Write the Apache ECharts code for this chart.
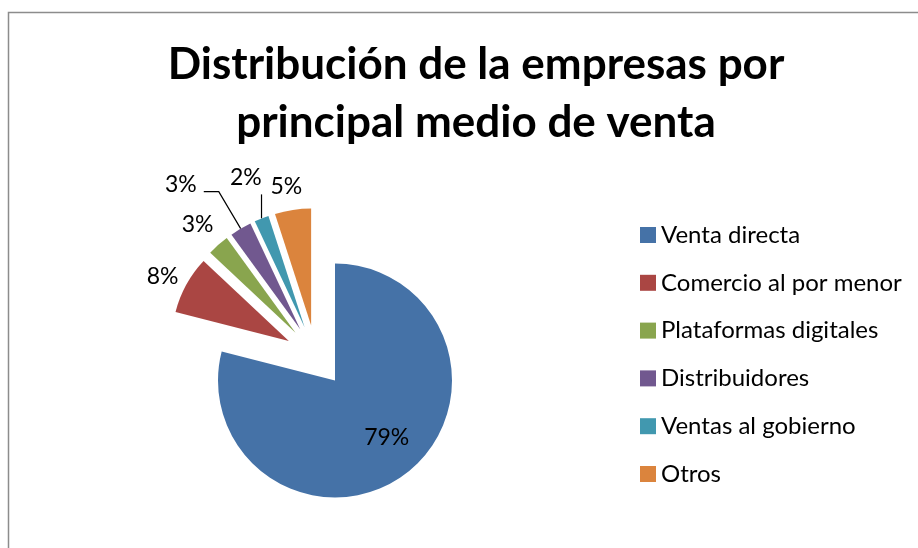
<!DOCTYPE html>
<html>
<head>
<meta charset="utf-8">
<script src="https://cdn.jsdelivr.net/npm/echarts@6/dist/echarts.min.js"></script>
<style>
  html, body { margin: 0; padding: 0; background: #fff; }
  #chart { width: 918px; height: 548px; }
</style>
</head>
<body>
<div id="chart"></div>
<script>
// datos
const categorias = ['Venta directa', 'Comercio al por menor', 'Plataformas digitales', 'Distribuidores', 'Ventas al gobierno', 'Otros'];
const porcentajes = [79, 8, 3, 3, 2, 5];
const colores = ['#4572A7', '#AA4643', '#89A54E', '#71588F', '#4198AF', '#DB843D'];

const fuente = 'Lato, "Open Sans", sans-serif';

// ajuste fino de cada etiqueta (dx, dy) respecto a su sitio por defecto
const ajusteEtiquetas = [[14, 8], [18, -3], [19, -13], [-2, -7], [14, -19], [28, -13]];

let datos = categorias.map((nombre, i) => {
  let item = {
    name: nombre,
    value: porcentajes[i],
    selected: true,
    itemStyle: { color: colores[i] },
    label: { position: i === 0 ? 'inside' : 'outside' },
    labelLine: { show: i === 3 || i === 4 }
  };
  if (i === 3) item.labelLine.length = 43, item.labelLine.length2 = 15;
  if (i === 4) item.labelLine.length = 24, item.labelLine.length2 = 0;
  return item;
});

let myChart = echarts.init(document.getElementById('chart'));
myChart.setOption({
  animation: false,
  title: {
    text: 'Distribución de la empresas por\nprincipal medio de venta',
    left: 471,
    top: 31,
    textAlign: 'center',
    textStyle: {
      fontFamily: fuente,
      fontWeight: 'bold',
      fontSize: 44,
      lineHeight: 58,
      color: '#000'
    }
  },
  legend: {
    orient: 'vertical',
    left: 635,
    top: 217,
    icon: 'rect',
    itemWidth: 16,
    itemHeight: 16,
    itemGap: 21.8,
    selectedMode: false,
    textStyle: {
      fontFamily: fuente,
      fontSize: 24,
      lineHeight: 26,
      color: '#000'
    },
    data: categorias
  },
  graphic: [{
    type: 'rect',
    shape: { x: 8.5, y: 12.5, width: 1000, height: 600 },
    style: { fill: 'none', stroke: '#8c8c8c', lineWidth: 1.5 },
    silent: true
  }],
  series: [{
    type: 'pie',
    center: [316, 356],
    radius: [0, 117],
    startAngle: 90,
    clockwise: true,
    selectedMode: 'multiple',
    selectedOffset: 31,
    avoidLabelOverlap: false,
    itemStyle: { borderWidth: 0 },
    select: { itemStyle: { borderWidth: 0 } },
    emphasis: { disabled: true },
    label: {
      formatter: '{c}%',
      fontFamily: fuente,
      fontSize: 23,
      color: '#000'
    },
    labelLine: {
      length: 10,
      length2: 12,
      lineStyle: { color: '#000', width: 1.2 }
    },
    labelLayout: function (params) {
      let a = ajusteEtiquetas[params.dataIndex];
      let res = { dx: a[0], dy: a[1], hideOverlap: false, moveOverlap: null };
      // la guía de "Ventas al gobierno" sube en vertical, como en el original
      if (params.dataIndex === 4 && params.labelLinePoints) {
        let p0 = params.labelLinePoints[0];
        res.labelLinePoints = [p0, [p0[0], p0[1] - 24], [p0[0], p0[1] - 24]];
      }
      return res;
    },
    data: datos
  }]
});
</script>
</body>
</html>
